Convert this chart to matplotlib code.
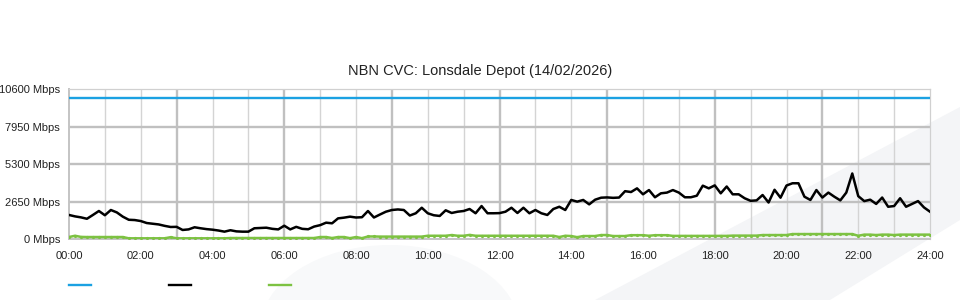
import numpy as np
import matplotlib
matplotlib.use('Agg')
import matplotlib.pyplot as plt
from matplotlib.lines import Line2D
from matplotlib.patches import Polygon, Ellipse

plt.rcParams['font.family'] = ['Liberation Sans', 'DejaVu Sans']

title = 'NBN CVC: Lonsdale Depot (14/02/2026)'

# 10 minute samples, 00:00 .. 24:00
times = np.arange(145) / 6.0

capacity = 10000

download = [
    1720, 1620, 1550, 1450, 1720, 2000, 1700, 2070, 1900, 1600, 1380, 1360,
    1290, 1150, 1100, 1050, 950, 870, 880, 660, 700, 850, 780, 720,
    680, 620, 540, 640, 560, 540, 540, 780, 800, 820, 740, 700,
    960, 700, 880, 740, 710, 900, 1000, 1175, 1130, 1480, 1530, 1600,
    1540, 1560, 2000, 1540, 1750, 1950, 2070, 2110, 2070, 1680, 1840, 2230,
    1840, 1700, 1650, 2050, 1860, 1950, 2000, 2140, 1840, 2350, 1840, 1840,
    1850, 1950, 2230, 1860, 2230, 1840, 2070, 1840, 1720, 2140, 2300, 2070,
    2780, 2660, 2780, 2470, 2800, 2940, 2960, 2930, 2950, 3400, 3340, 3600,
    3180, 3480, 2970, 3250, 3300, 3480, 3300, 2970, 2970, 3080, 3790, 3600,
    3810, 3250, 3730, 3180, 3180, 2900, 2720, 2750, 3130, 2600, 3500, 2940,
    3800, 3960, 3960, 3010, 2780, 3480, 2950, 3300, 3010, 2750, 3300, 4650,
    3050, 2700, 2800, 2500, 2950, 2300, 2350, 2900, 2300, 2500, 2700, 2250,
    1950,
]

upload = [
    160, 250, 170, 160, 160, 160, 160, 160, 160, 160, 70, 70,
    70, 70, 70, 70, 70, 150, 70, 70, 70, 70, 70, 70,
    70, 70, 70, 90, 90, 90, 90, 90, 90, 90, 90, 90,
    90, 90, 90, 90, 90, 90, 160, 160, 90, 160, 160, 80,
    160, 80, 200, 200, 190, 190, 190, 190, 190, 190, 190, 190,
    250, 250, 250, 250, 300, 250, 250, 310, 250, 250, 250, 250,
    250, 250, 250, 250, 250, 250, 250, 250, 250, 250, 160, 250,
    230, 150, 230, 230, 230, 300, 300, 230, 230, 230, 290, 290,
    290, 250, 290, 290, 290, 240, 240, 240, 240, 240, 240, 240,
    240, 240, 240, 260, 260, 260, 260, 260, 300, 300, 300, 300,
    300, 370, 370, 370, 370, 370, 370, 370, 370, 370, 370, 370,
    250, 330, 330, 300, 330, 330, 300, 330, 330, 330, 330, 330,
    330,
]

hour_ticks = np.arange(0, 25, 2)
hour_labels = ['%02d:00' % h for h in hour_ticks]
y_ticks = [0, 2650, 5300, 7950, 10600]
y_labels = ['%d Mbps' % v for v in y_ticks]

W, H = 960, 300
fig = plt.figure(figsize=(W / 100, H / 100), dpi=100)
fig.patch.set_facecolor('white')

def fx(px):
    return px / W

def fy(py):
    return 1 - py / H

# faint watermark swoosh behind everything
swoosh = '#f4f5f7'
band = [(595, 300), (960, 107), (960, 220), (830, 300)]
fig.patches.append(Polygon([(fx(x), fy(y)) for x, y in band], closed=True,
                           transform=fig.transFigure, facecolor=swoosh,
                           edgecolor='none', zorder=-2))
fig.patches.append(Ellipse((fx(390), fy(330)), 260 / W, 170 / H,
                           transform=fig.transFigure, facecolor='#f8f9fa',
                           edgecolor='none', zorder=-2))

ax = fig.add_axes([fx(69), fy(239.3), fx(930 - 69), (239.3 - 89.3) / H])
ax.set_zorder(1)
ax.set_facecolor('none')
ax.set_xlim(0, 24)
ax.set_ylim(0, 10600)

# grid: light every hour, heavier every 3 hours and on the value lines
for h in range(1, 24):
    if h % 3 == 0:
        ax.axvline(h, color='#c0c0c0', lw=1.7, zorder=1)
    else:
        ax.axvline(h, color='#d4d4d4', lw=1.0, zorder=1)
for v in y_ticks[1:-1]:
    ax.axhline(v, color='#c0c0c0', lw=1.7, zorder=1)

for side in ['top', 'right']:
    ax.spines[side].set_color('#d0d0d0')
    ax.spines[side].set_linewidth(0.9)
for side in ['left', 'bottom']:
    ax.spines[side].set_color('#c4c4c4')
    ax.spines[side].set_linewidth(1.4)

ax.plot([0, 24], [capacity, capacity], color='#1ba1e2', lw=1.7, zorder=3)
ax.plot(times, upload, color='#7dc242', lw=1.8, marker='o', ms=1.3, zorder=3)
ax.plot(times, download, color='black', lw=1.8, zorder=4)

ax.set_xticks(hour_ticks)
ax.set_xticklabels(hour_labels)
ax.set_yticks(y_ticks)
ax.set_yticklabels(y_labels)
ax.tick_params(axis='x', length=0, pad=8.5, labelsize=8, colors='#222222')
ax.tick_params(axis='y', length=0, pad=6.5, labelsize=8, colors='#222222')

fig.text(0.5, fy(71), title, ha='center', va='center', fontsize=10.5,
         color='#222222')

# legend swatches (no labels)
for x0, c in [(69, '#1ba1e2'), (169, 'black'), (269, '#7dc242')]:
    fig.add_artist(Line2D([fx(x0), fx(x0 + 22)], [fy(285), fy(285)],
                          transform=fig.transFigure, color=c, lw=1.7))

fig.savefig('out.png', dpi=100)
